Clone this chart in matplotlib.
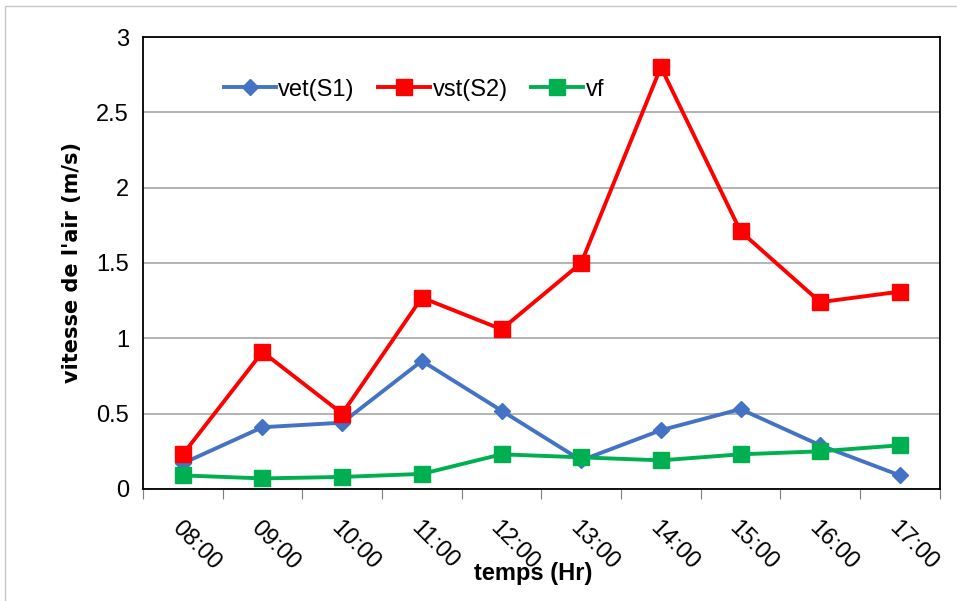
import matplotlib
matplotlib.use("Agg")
import matplotlib.pyplot as plt
from matplotlib.patches import Rectangle
import numpy as np

hours = ["08:00", "09:00", "10:00", "11:00", "12:00", "13:00", "14:00", "15:00", "16:00", "17:00"]
vet = [0.17, 0.41, 0.44, 0.85, 0.52, 0.19, 0.39, 0.53, 0.29, 0.09]
vst = [0.23, 0.91, 0.50, 1.27, 1.06, 1.50, 2.80, 1.71, 1.24, 1.31]
vf = [0.09, 0.07, 0.08, 0.10, 0.23, 0.21, 0.19, 0.23, 0.25, 0.29]

FONT = ["Liberation Sans Narrow", "Liberation Sans", "DejaVu Sans"]
plt.rcParams["font.family"] = FONT

fig = plt.figure(figsize=(9.57, 6.01), dpi=100)
ax = fig.add_axes([0.1494, 0.1864, 0.8326, 0.752])

# light frame round the whole chart area
fig.add_artist(Rectangle((5 / 957, -0.01), 1.0, 1 - 6 / 601 + 0.01, transform=fig.transFigure,
                         fill=False, edgecolor="#c8c8c8", lw=1.0))

x = np.arange(len(hours))
ax.plot(x, vet, color="#4472c4", lw=2.8, marker="D", ms=8, mec="#4472c4", label="vet(S1)", zorder=3)
ax.plot(x, vst, color="#ff0000", lw=2.8, marker="s", ms=12, mec="#ff0000", label="vst(S2)", zorder=4)
ax.plot(x, vf, color="#00b050", lw=2.8, marker="s", ms=11, mec="#00b050", label="vf", zorder=3)

ax.set_xlim(-0.5, len(hours) - 0.5)
ax.set_ylim(0, 3)
ax.set_yticks(np.arange(0, 3.01, 0.5))
ax.set_yticklabels(["0", "0.5", "1", "1.5", "2", "2.5", "3"], fontsize=17)
ax.yaxis.grid(True, color="#a6a6a6", lw=1.2)
ax.set_axisbelow(True)
ax.tick_params(axis="y", length=0, pad=10)

# category ticks sit on the boundaries between hours
ax.set_xticks(np.arange(-0.5, len(hours), 1.0))
ax.set_xticklabels([])
ax.set_xticks(x, minor=True)
ax.set_xticklabels(hours, minor=True, rotation=-45, ha="left", va="top",
                   rotation_mode="anchor", fontsize=17)
ax.tick_params(axis="x", which="major", length=7, color="#7f7f7f", direction="out")
ax.tick_params(axis="x", which="minor", length=0, pad=20)

for s in ax.spines.values():
    s.set_color("#000000")
    s.set_linewidth(1.3)

ax.set_ylabel("vitesse de l'air (m/s)", fontsize=15, fontweight="bold", family="DejaVu Sans", labelpad=10)
fig.text(0.557, 0.045, "temps (Hr)", ha="center", va="center", fontsize=17, fontweight="bold")

ax.legend(loc="upper left", bbox_to_anchor=(0.075, 0.955), ncol=3, frameon=False,
          fontsize=17, handlelength=2.2, columnspacing=1.0, handletextpad=0.1)

fig.savefig("out.png", dpi=100, facecolor="white")
